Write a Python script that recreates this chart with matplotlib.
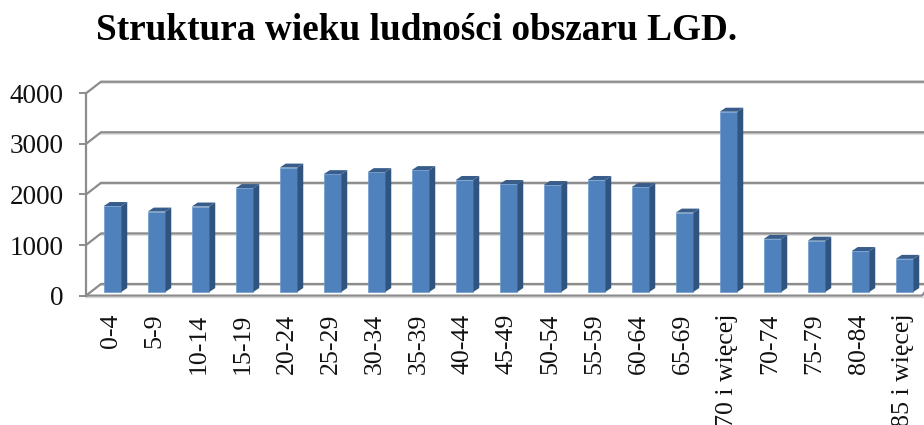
import matplotlib
matplotlib.use("Agg")
import matplotlib.pyplot as plt
from matplotlib.patches import Polygon
from matplotlib.transforms import ScaledTranslation

categories = ["0-4", "5-9", "10-14", "15-19", "20-24", "25-29", "30-34", "35-39", "40-44", "45-49",
              "50-54", "55-59", "60-64", "65-69", "70 i więcej", "70-74", "75-79", "80-84", "85 i więcej"]
values = [1700, 1590, 1690, 2055, 2460, 2330, 2370, 2410, 2215, 2135,
          2115, 2215, 2075, 1570, 3565, 1050, 1015, 810, 655]
yticks = [0, 1000, 2000, 3000, 4000]
title = "Struktura wieku ludności obszaru LGD."

W, H = 924, 425
plt.rcParams["font.family"] = ["Liberation Serif", "DejaVu Sans"]
fig = plt.figure(figsize=(W / 100, H / 100), dpi=100)
left, right, y0, y4000 = 86, 924, 295.6, 93.3
ax = fig.add_axes([left / W, 1 - y0 / H, (right - left) / W, (y0 - y4000) / H])
ax.set_xlim((left - 112.5) / 44, (right - 112.5) / 44)
ax.set_ylim(0, 4000)

GRID = "#8c8c8c"
SHADOW = "#d9d9d9"
px_x = 1 / 44            # category units per pixel
px_y = 4000 / (y0 - y4000)  # value units per pixel
wall_dx, wall_dy = 15 * px_x, 11.6 * px_y
bar_w = 17.5 * px_x
bar_dx, bar_dy = 6 * px_x, 4 * px_y
bar_base = 3.6 * px_y
xmin, xmax = ax.get_xlim()

for v in yticks:
    ax.plot([xmin + wall_dx, xmax], [v + wall_dy - 1.3 * px_y] * 2, color=SHADOW, lw=1.2, clip_on=False, zorder=1)
    ax.plot([xmin, xmin + wall_dx, xmax], [v, v + wall_dy, v + wall_dy], color=GRID, lw=1.6,
            clip_on=False, zorder=2, solid_joinstyle="miter")
ax.plot([xmin, xmax - 2 * px_x, xmax], [0, 0, 2.5 * px_y], color=GRID, lw=1.6, clip_on=False, zorder=2)
ax.plot([xmin, xmax], [-1.3 * px_y] * 2, color=SHADOW, lw=1.0, clip_on=False, zorder=1)

xs = list(range(len(categories)))
ax.bar(xs, values, bottom=bar_base, width=bar_w, color="#4F81BD",
       edgecolor="#6f9ad0", linewidth=0.5, zorder=4, clip_on=False)
for x, v in zip(xs, values):
    r = x + bar_w / 2
    l = x - bar_w / 2
    top = v + bar_base
    ax.add_patch(Polygon([(r, bar_base), (r, top), (r + bar_dx, top + bar_dy), (r + bar_dx, bar_base + bar_dy)],
                         closed=True, fc="#31547F", ec="none", zorder=4, clip_on=False))
    ax.add_patch(Polygon([(l, top), (r, top), (r + bar_dx, top + bar_dy), (l + bar_dx, top + bar_dy)],
                         closed=True, fc="#385D8A", ec="none", zorder=4, clip_on=False))

for s in ["top", "right", "bottom"]:
    ax.spines[s].set_visible(False)
ax.spines["left"].set_color(GRID)
ax.spines["left"].set_linewidth(1.6)
ax.set_yticks(yticks)
ax.set_yticklabels([str(v) for v in yticks], fontsize=19.5, color="#111111")
ax.tick_params(axis="y", length=5, width=1.4, color=GRID, pad=11)
ax.set_xticks(xs)
ax.set_xticklabels(categories, rotation=90, fontsize=18.6, color="#111111", ha="center", va="top")
ax.tick_params(axis="x", length=0, pad=13)
shift = ScaledTranslation(-2 / 100, 0, fig.dpi_scale_trans)
for lab in ax.get_xticklabels():
    lab.set_transform(lab.get_transform() + shift)

fig.text(96 / W, 1 - 31 / H, title, fontsize=26.8, fontweight="bold", color="black", ha="left", va="center")
fig.savefig("out.png", dpi=100)
